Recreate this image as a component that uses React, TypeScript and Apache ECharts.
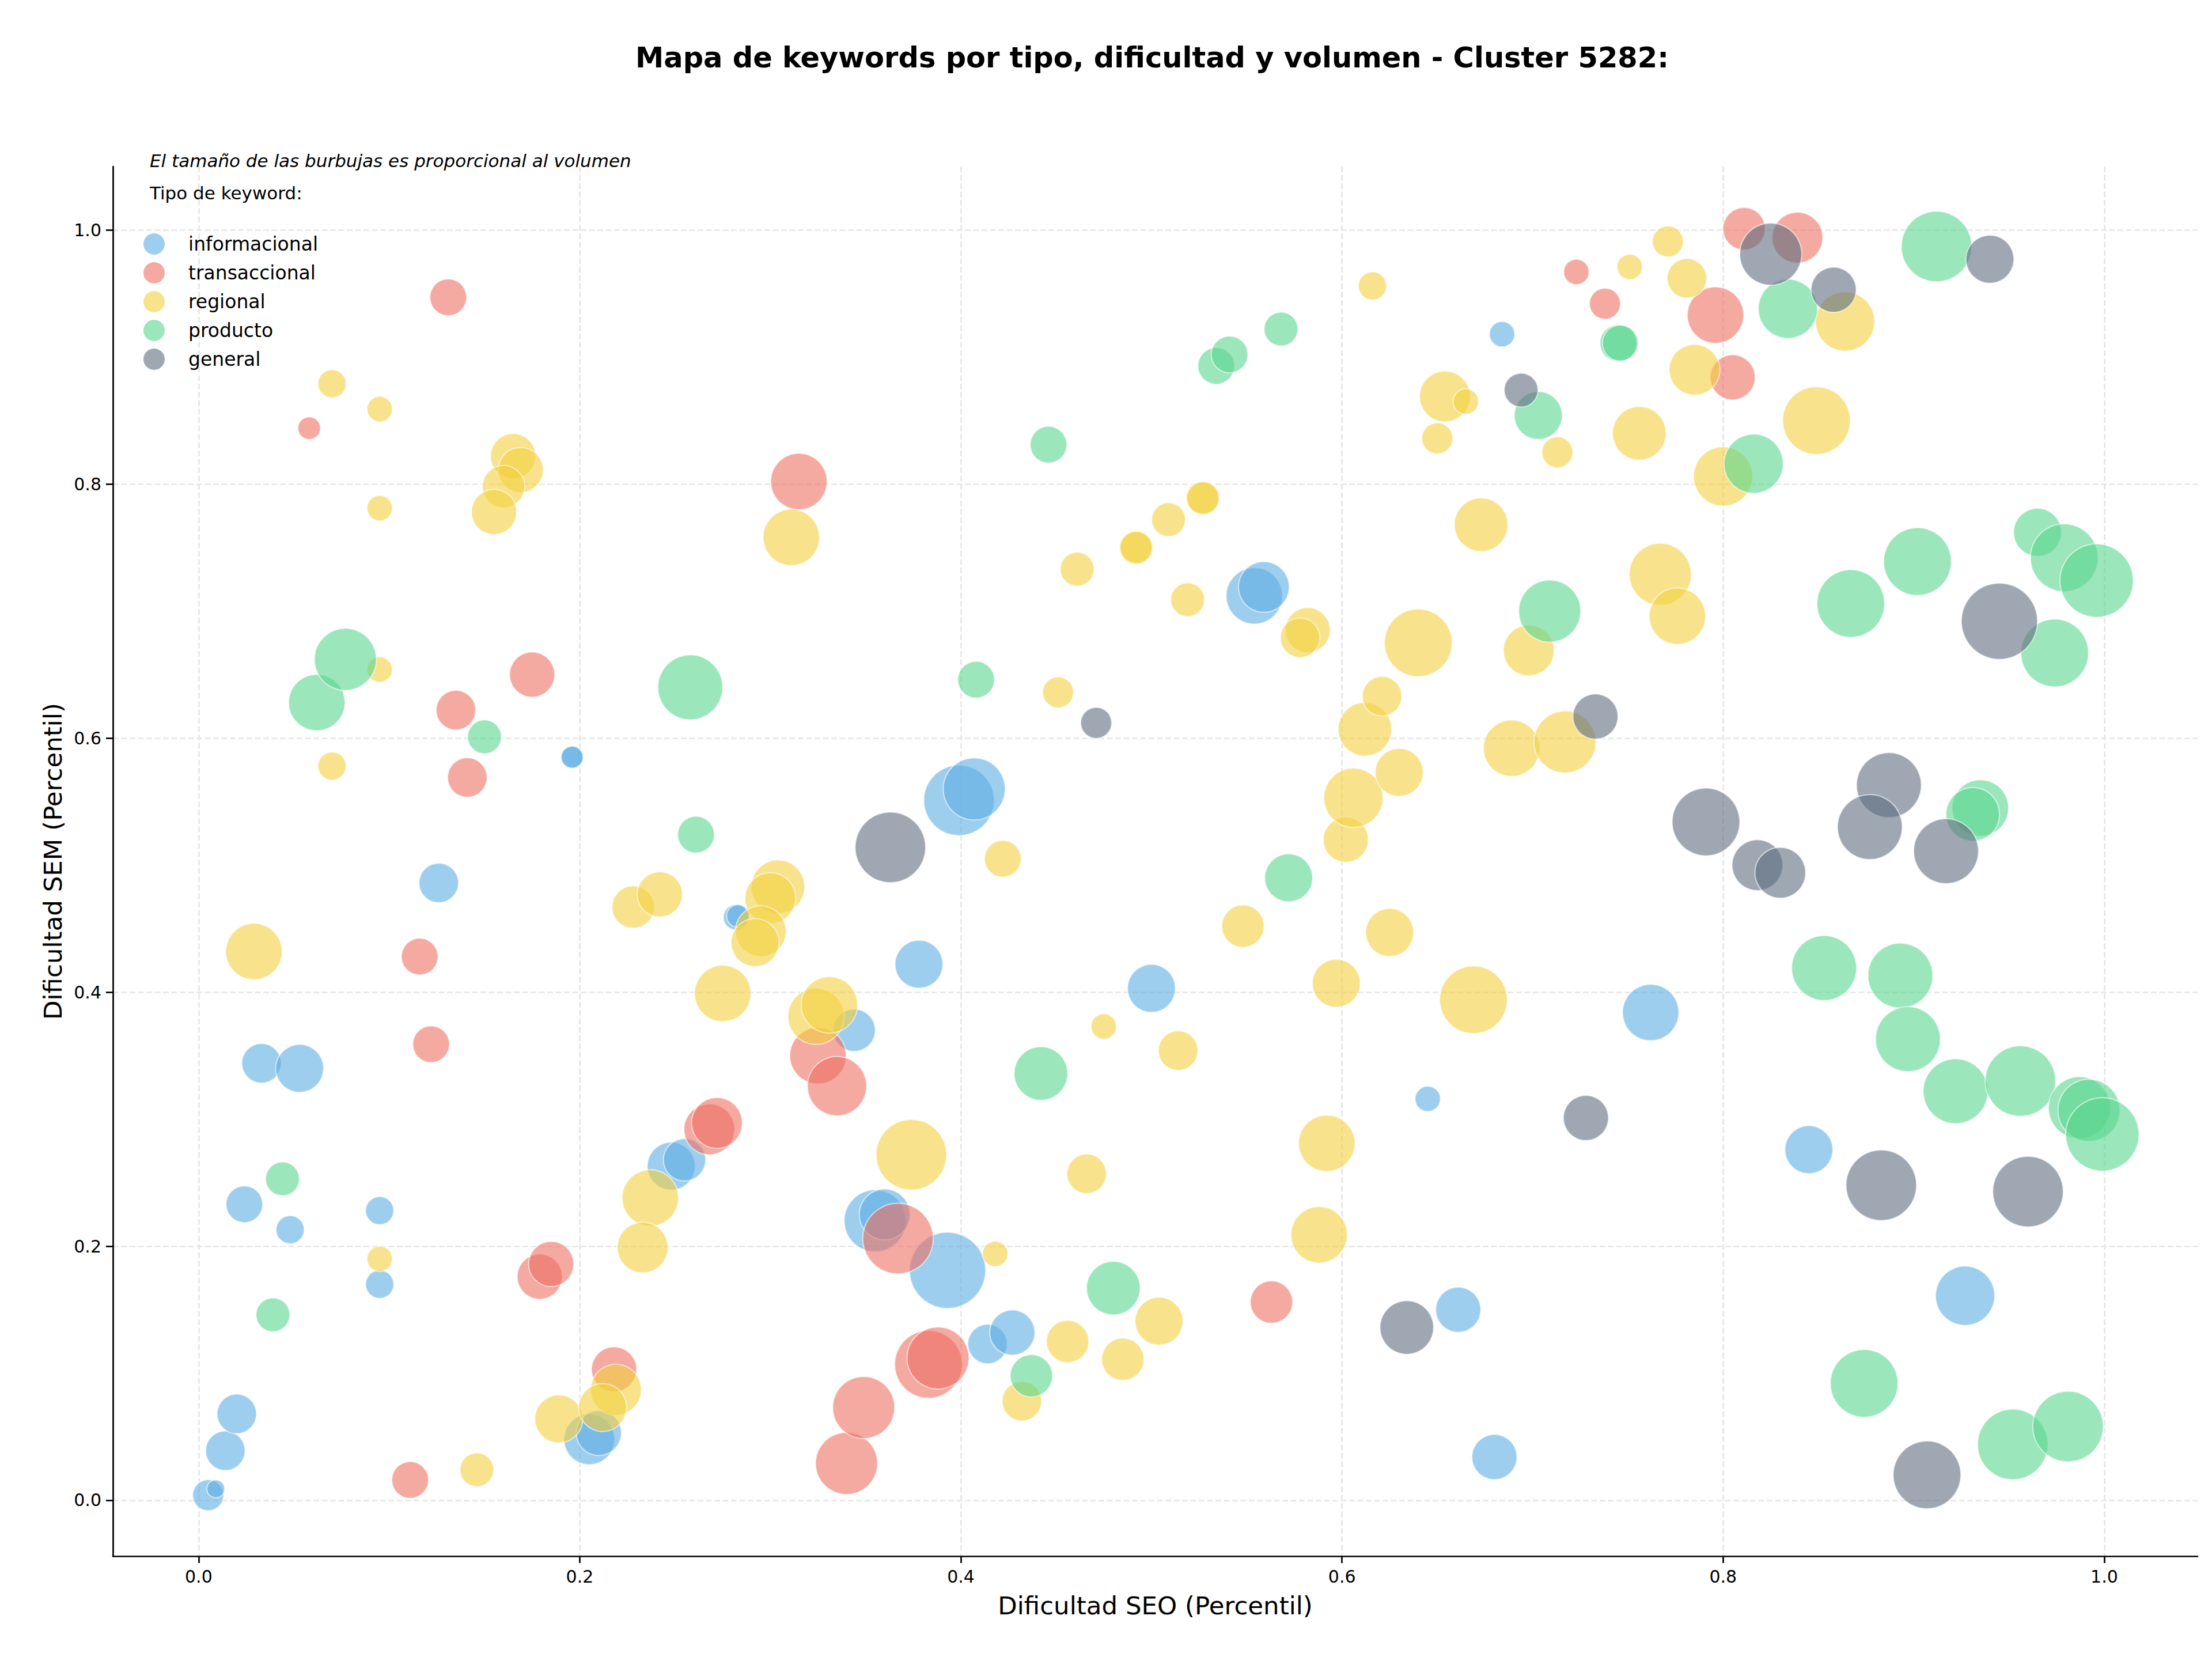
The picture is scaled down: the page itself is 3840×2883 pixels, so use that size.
import React, { useEffect, useRef } from "react";
import * as echarts from "echarts";

// ---- Data: [dificultad SEO, dificultad SEM, volumen] ----
const categories = ["informacional", "transaccional", "regional", "producto", "general"];

const informacional = [
  [0.005, 0.004, 121], [0.009, 0.009, 40], [0.014, 0.039, 196], [0.020, 0.068, 196],
  [0.024, 0.233, 169], [0.033, 0.344, 196], [0.053, 0.340, 289], [0.048, 0.213, 100],
  [0.095, 0.228, 100], [0.095, 0.170, 100], [0.126, 0.486, 196], [0.196, 0.585, 64],
  [0.196, 0.585, 60], [0.205, 0.048, 324], [0.210, 0.053, 256], [0.248, 0.263, 289],
  [0.255, 0.268, 225], [0.282, 0.459, 81], [0.283, 0.460, 64], [0.344, 0.370, 225],
  [0.355, 0.220, 484], [0.360, 0.225, 324], [0.378, 0.422, 289], [0.393, 0.181, 729],
  [0.399, 0.551, 625], [0.407, 0.560, 484], [0.414, 0.123, 196], [0.427, 0.132, 256],
  [0.500, 0.403, 289], [0.554, 0.712, 400], [0.559, 0.719, 324], [0.645, 0.316, 81],
  [0.661, 0.150, 256], [0.680, 0.034, 256], [0.684, 0.918, 81], [0.762, 0.384, 400],
  [0.845, 0.276, 289], [0.927, 0.161, 441],
];

const transaccional = [
  [0.058, 0.844, 64], [0.131, 0.947, 169], [0.135, 0.622, 196], [0.141, 0.569, 196],
  [0.175, 0.650, 256], [0.116, 0.428, 169], [0.122, 0.359, 169], [0.111, 0.016, 169],
  [0.179, 0.176, 256], [0.185, 0.186, 256], [0.218, 0.103, 256], [0.268, 0.292, 324],
  [0.272, 0.297, 324], [0.315, 0.802, 400], [0.325, 0.350, 400], [0.335, 0.326, 441],
  [0.340, 0.029, 484], [0.349, 0.073, 484], [0.367, 0.206, 625], [0.383, 0.107, 576],
  [0.388, 0.112, 484], [0.563, 0.156, 225], [0.723, 0.967, 81], [0.738, 0.942, 121],
  [0.796, 0.933, 400], [0.805, 0.884, 256], [0.811, 1.001, 225], [0.839, 0.994, 324],
];

const regional = [
  [0.070, 0.879, 100], [0.095, 0.859, 81], [0.095, 0.781, 81], [0.095, 0.654, 81],
  [0.070, 0.578, 100], [0.029, 0.432, 400], [0.095, 0.190, 81], [0.146, 0.024, 144],
  [0.165, 0.822, 256], [0.169, 0.811, 256], [0.160, 0.798, 225], [0.155, 0.778, 256],
  [0.311, 0.758, 400], [0.228, 0.467, 225], [0.242, 0.477, 256], [0.275, 0.399, 400],
  [0.304, 0.483, 361], [0.300, 0.474, 324], [0.295, 0.448, 324], [0.292, 0.439, 289],
  [0.237, 0.238, 400], [0.233, 0.199, 324], [0.189, 0.064, 289], [0.219, 0.087, 324],
  [0.212, 0.073, 289], [0.324, 0.381, 400], [0.331, 0.390, 400], [0.374, 0.272, 625],
  [0.418, 0.194, 81], [0.422, 0.505, 169], [0.432, 0.078, 196], [0.456, 0.125, 225],
  [0.466, 0.257, 196], [0.475, 0.373, 81], [0.451, 0.636, 121], [0.461, 0.733, 144],
  [0.492, 0.750, 144], [0.492, 0.750, 130], [0.509, 0.772, 144], [0.527, 0.789, 144],
  [0.527, 0.789, 130], [0.519, 0.709, 144], [0.485, 0.111, 225], [0.504, 0.141, 289],
  [0.514, 0.354, 196], [0.548, 0.452, 225], [0.582, 0.685, 256], [0.578, 0.679, 196],
  [0.597, 0.407, 289], [0.592, 0.281, 400], [0.588, 0.209, 400], [0.602, 0.520, 256],
  [0.606, 0.553, 441], [0.612, 0.607, 361], [0.621, 0.633, 196], [0.630, 0.573, 289],
  [0.625, 0.447, 289], [0.640, 0.675, 576], [0.616, 0.956, 100], [0.654, 0.869, 324],
  [0.665, 0.865, 81], [0.650, 0.836, 121], [0.673, 0.768, 361], [0.669, 0.394, 576],
  [0.698, 0.669, 324], [0.689, 0.592, 400], [0.717, 0.597, 484], [0.713, 0.825, 121],
  [0.751, 0.971, 81], [0.771, 0.991, 121], [0.781, 0.962, 196], [0.756, 0.840, 361],
  [0.785, 0.890, 324], [0.800, 0.806, 441], [0.767, 0.729, 484], [0.776, 0.696, 400],
  [0.849, 0.850, 576], [0.864, 0.928, 441],
];

const producto = [
  [0.039, 0.146, 144], [0.044, 0.253, 144], [0.062, 0.628, 400], [0.077, 0.662, 484],
  [0.150, 0.601, 144], [0.258, 0.640, 529], [0.261, 0.524, 169], [0.408, 0.646, 169],
  [0.442, 0.336, 361], [0.437, 0.098, 225], [0.446, 0.831, 169], [0.480, 0.167, 361],
  [0.534, 0.893, 169], [0.541, 0.902, 169], [0.568, 0.922, 144], [0.572, 0.490, 289],
  [0.703, 0.854, 289], [0.709, 0.700, 484], [0.745, 0.911, 169], [0.746, 0.911, 160],
  [0.816, 0.816, 441], [0.834, 0.938, 441], [0.867, 0.706, 576], [0.902, 0.739, 576],
  [0.912, 0.987, 625], [0.965, 0.762, 289], [0.979, 0.742, 576], [0.996, 0.724, 676],
  [0.974, 0.667, 576], [0.853, 0.419, 529], [0.893, 0.413, 529], [0.897, 0.363, 529],
  [0.922, 0.322, 529], [0.956, 0.330, 625], [0.987, 0.309, 484], [0.992, 0.307, 484],
  [0.999, 0.288, 676], [0.935, 0.545, 400], [0.931, 0.540, 361], [0.874, 0.092, 576],
  [0.952, 0.044, 625], [0.981, 0.058, 625],
];

const general = [
  [0.363, 0.514, 625], [0.471, 0.612, 121], [0.634, 0.136, 361], [0.694, 0.874, 144],
  [0.728, 0.301, 256], [0.733, 0.617, 256], [0.791, 0.534, 576], [0.818, 0.500, 324],
  [0.830, 0.494, 324], [0.825, 0.981, 484], [0.858, 0.953, 256], [0.940, 0.977, 289],
  [0.945, 0.692, 729], [0.887, 0.563, 529], [0.877, 0.530, 529], [0.917, 0.511, 529],
  [0.883, 0.248, 625], [0.960, 0.243, 625], [0.907, 0.020, 576],
];

const seriesData = [informacional, transaccional, regional, producto, general];
const tickValues = [0, 0.2, 0.4, 0.6, 0.8, 1.0];

const palette = ["#5DADE2", "#EC7063", "#F4D03F", "#58D68D", "#5D6D7E"];
const FONT = "DejaVu Sans";

export default function App() {
  const ref = useRef<HTMLDivElement>(null);

  useEffect(() => {
    if (!ref.current) return;
    const chart = echarts.init(ref.current, undefined, { renderer: "svg" });

    const axisCommon = {
      type: "value",
      axisLine: { show: true, onZero: false, lineStyle: { color: "#000", width: 2.7 } },
      axisTick: {
        show: true,
        inside: false,
        length: 12,
        lineStyle: { color: "#000", width: 2.7 },
        customValues: tickValues,
      },
      axisLabel: {
        show: true,
        color: "#000",
        fontFamily: FONT,
        fontSize: 30,
        margin: 20,
        customValues: tickValues,
        formatter: (v: number) => v.toFixed(1),
      },
      splitLine: {
        show: true,
        lineStyle: { color: "#e6e6e6", width: 2.7, type: [10, 4.5] },
      },
      nameLocation: "middle",
      nameTextStyle: { color: "#000", fontFamily: FONT, fontSize: 43.5 },
    };

    chart.setOption({
      animation: false,
      backgroundColor: "#fff",
      textStyle: { fontFamily: FONT },
      grid: { left: 196, right: 25, top: 289, bottom: 182 },
      xAxis: {
        ...axisCommon,
        min: -0.045,
        max: 1.049,
        name: "Dificultad SEO (Percentil)",
        nameGap: 64,
      },
      yAxis: {
        ...axisCommon,
        min: -0.044,
        max: 1.05,
        name: "Dificultad SEM (Percentil)",
        nameGap: 82,
      },
      legend: {
        orient: "vertical",
        left: 244,
        top: 400,
        itemWidth: 37,
        itemHeight: 37,
        itemGap: 13,
        icon: "circle",
        itemStyle: { opacity: 0.6, borderWidth: 0 },
        textStyle: {
          fontFamily: FONT,
          fontSize: 33,
          color: "#000",
          lineHeight: 37,
          padding: [0, 0, 0, 36],
        },
        data: categories,
      },
      graphic: [
        {
          type: "text",
          x: 2000,
          y: 100,
          style: {
            text: "Mapa de keywords por tipo, dificultad y volumen - Cluster 5282:",
            fontFamily: FONT,
            fontSize: 49.5,
            fontWeight: "bold",
            fill: "#000",
            align: "center",
            verticalAlign: "middle",
          },
        },
        {
          type: "text",
          x: 260,
          y: 279,
          style: {
            text: "El tamaño de las burbujas es proporcional al volumen",
            fontFamily: FONT,
            fontSize: 31,
            fontStyle: "italic",
            fill: "#000",
            verticalAlign: "middle",
          },
        },
        {
          type: "text",
          x: 260,
          y: 335,
          style: {
            text: "Tipo de keyword:",
            fontFamily: FONT,
            fontSize: 31,
            fill: "#000",
            verticalAlign: "middle",
          },
        },
      ],
      series: categories.map((name, i) => ({
        name,
        type: "scatter",
        data: seriesData[i],
        symbol: "circle",
        symbolSize: (val: number[]) => 4.9 * Math.sqrt(val[2]),
        itemStyle: {
          color: palette[i],
          opacity: 0.6,
          borderColor: "#fff",
          borderWidth: 2,
        },
        emphasis: { disabled: true },
        silent: true,
      })),
    });

    return () => chart.dispose();
  }, []);

  return (
    <div
      ref={ref}
      style={{ position: "fixed", left: 0, top: 0, width: 3840, height: 2883, background: "#fff" }}
    />
  );
}
